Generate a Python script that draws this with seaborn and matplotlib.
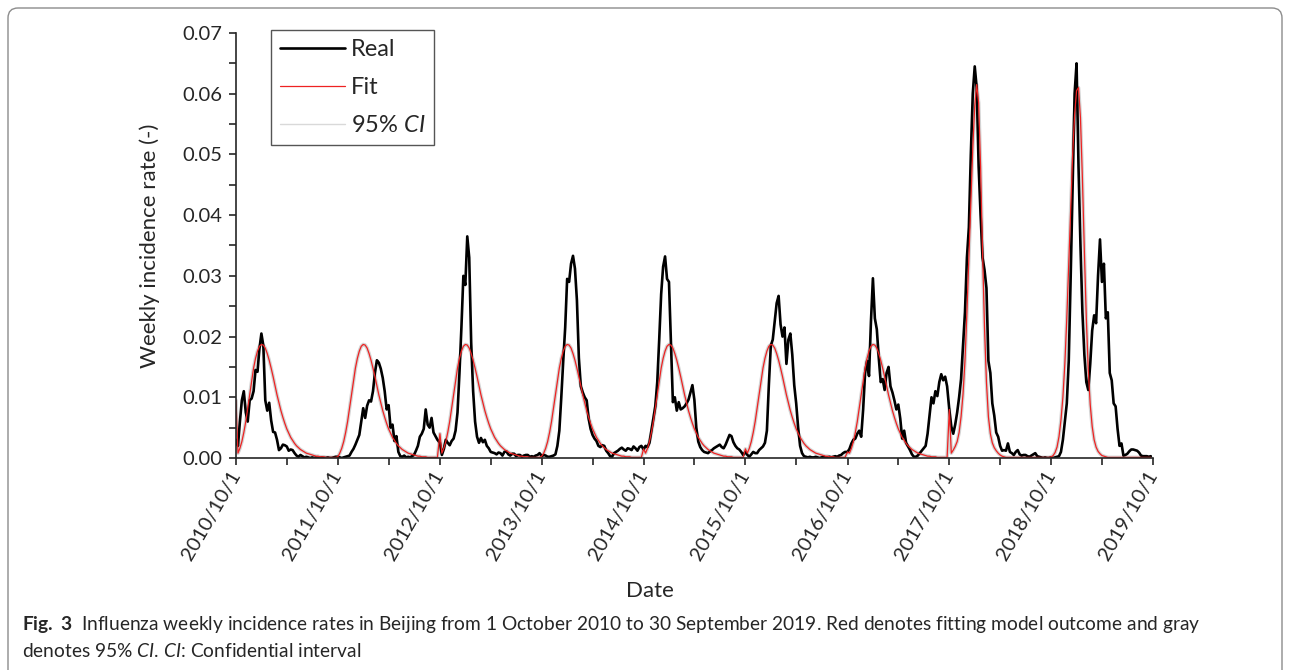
import pandas as pd
import matplotlib
matplotlib.use("Agg")
import matplotlib.pyplot as plt
import matplotlib.dates as mdates
from matplotlib.lines import Line2D
from matplotlib.patches import FancyBboxPatch
from matplotlib.transforms import IdentityTransform
from matplotlib.ticker import MultipleLocator, FormatStrFormatter
import seaborn as sns

# flu seasons, each starts on 1 October, weekly values
seasons = [2010, 2011, 2012, 2013, 2014, 2015, 2016, 2017, 2018]

real_2010 = [0.0030, 0.0020, 0.0060, 0.0095, 0.0110, 0.0075, 0.0060, 0.0095, 0.0098, 0.0110,
             0.0145, 0.0142, 0.0180, 0.0205, 0.0185, 0.0095, 0.0078, 0.0091, 0.0062, 0.0043,
             0.0042, 0.0030, 0.0013, 0.0016, 0.0022, 0.0021, 0.0019, 0.0012, 0.0014, 0.0013,
             0.0008, 0.0004, 0.0002, 0.0005, 0.0003, 0.0001, 0.0002, 0.0001, 0.0000, 0.0001,
             0.0000, 0.0001, 0.0000, 0.0000, 0.0001, 0.0000, 0.0000, 0.0001, 0.0000, 0.0000,
             0.0001, 0.0002]
real_2011 = [0.0002, 0.0001, 0.0000, 0.0001, 0.0002, 0.0003, 0.0004, 0.0010, 0.0015, 0.0022,
             0.0030, 0.0038, 0.0060, 0.0082, 0.0066, 0.0086, 0.0095, 0.0093, 0.0110, 0.0140,
             0.0161, 0.0157, 0.0147, 0.0132, 0.0110, 0.0080, 0.0087, 0.0050, 0.0055, 0.0028,
             0.0036, 0.0010, 0.0003, 0.0002, 0.0004, 0.0001, 0.0002, 0.0001, 0.0003, 0.0005,
             0.0012, 0.0020, 0.0035, 0.0040, 0.0048, 0.0080, 0.0055, 0.0050, 0.0066, 0.0042,
             0.0036, 0.0030]
real_2012 = [0.0025, 0.0005, 0.0015, 0.0030, 0.0025, 0.0021, 0.0028, 0.0032, 0.0045, 0.0075,
             0.0140, 0.0215, 0.0300, 0.0285, 0.0365, 0.0330, 0.0190, 0.0110, 0.0060, 0.0035,
             0.0025, 0.0033, 0.0026, 0.0030, 0.0020, 0.0016, 0.0010, 0.0009, 0.0008, 0.0006,
             0.0009, 0.0008, 0.0004, 0.0010, 0.0011, 0.0006, 0.0004, 0.0007, 0.0007, 0.0003,
             0.0005, 0.0005, 0.0002, 0.0004, 0.0005, 0.0005, 0.0002, 0.0003, 0.0002, 0.0004,
             0.0005, 0.0008]
real_2013 = [0.0003, 0.0005, 0.0004, 0.0002, 0.0002, 0.0003, 0.0004, 0.0006, 0.0020, 0.0045,
             0.0100, 0.0160, 0.0215, 0.0295, 0.0290, 0.0320, 0.0333, 0.0312, 0.0260, 0.0165,
             0.0118, 0.0108, 0.0100, 0.0095, 0.0065, 0.0048, 0.0038, 0.0032, 0.0028, 0.0020,
             0.0018, 0.0021, 0.0020, 0.0012, 0.0008, 0.0003, 0.0002, 0.0008, 0.0010, 0.0012,
             0.0015, 0.0017, 0.0014, 0.0012, 0.0016, 0.0015, 0.0013, 0.0019, 0.0016, 0.0012,
             0.0018, 0.0020]
real_2014 = [0.0014, 0.0020, 0.0018, 0.0025, 0.0045, 0.0065, 0.0085, 0.0125, 0.0195, 0.0270,
             0.0315, 0.0332, 0.0295, 0.0290, 0.0190, 0.0092, 0.0100, 0.0078, 0.0092, 0.0080,
             0.0082, 0.0085, 0.0090, 0.0096, 0.0108, 0.0120, 0.0096, 0.0050, 0.0027, 0.0018,
             0.0013, 0.0010, 0.0009, 0.0008, 0.0011, 0.0013, 0.0016, 0.0018, 0.0020, 0.0022,
             0.0018, 0.0016, 0.0022, 0.0030, 0.0038, 0.0036, 0.0026, 0.0020, 0.0016, 0.0014,
             0.0010, 0.0005]
real_2015 = [0.0010, 0.0005, 0.0002, 0.0006, 0.0010, 0.0008, 0.0008, 0.0013, 0.0016, 0.0019,
             0.0025, 0.0045, 0.0120, 0.0185, 0.0195, 0.0225, 0.0255, 0.0267, 0.0220, 0.0200,
             0.0215, 0.0155, 0.0195, 0.0205, 0.0170, 0.0120, 0.0090, 0.0050, 0.0020, 0.0008,
             0.0003, 0.0002, 0.0001, 0.0002, 0.0001, 0.0001, 0.0002, 0.0001, 0.0000, 0.0001,
             0.0002, 0.0001, 0.0001, 0.0002, 0.0001, 0.0002, 0.0003, 0.0002, 0.0004, 0.0005,
             0.0008, 0.0010]
real_2016 = [0.0010, 0.0015, 0.0024, 0.0030, 0.0032, 0.0040, 0.0045, 0.0035, 0.0080, 0.0140,
             0.0160, 0.0135, 0.0225, 0.0296, 0.0230, 0.0212, 0.0165, 0.0125, 0.0130, 0.0112,
             0.0140, 0.0150, 0.0118, 0.0108, 0.0095, 0.0080, 0.0088, 0.0065, 0.0032, 0.0045,
             0.0025, 0.0019, 0.0013, 0.0006, 0.0002, 0.0002, 0.0004, 0.0008, 0.0012, 0.0016,
             0.0020, 0.0040, 0.0070, 0.0100, 0.0090, 0.0110, 0.0102, 0.0125, 0.0138, 0.0128,
             0.0134, 0.0118]
real_2017 = [0.0079, 0.0052, 0.0040, 0.0055, 0.0075, 0.0100, 0.0130, 0.0185, 0.0240, 0.0330,
             0.0380, 0.0500, 0.0600, 0.0645, 0.0610, 0.0480, 0.0400, 0.0330, 0.0310, 0.0280,
             0.0160, 0.0140, 0.0090, 0.0070, 0.0042, 0.0035, 0.0020, 0.0012, 0.0013, 0.0012,
             0.0024, 0.0010, 0.0008, 0.0005, 0.0010, 0.0013, 0.0006, 0.0004, 0.0005, 0.0005,
             0.0003, 0.0002, 0.0004, 0.0006, 0.0008, 0.0003, 0.0002, 0.0001, 0.0000, 0.0001,
             0.0000, 0.0000]
real_2018 = [0.0001, 0.0000, 0.0001, 0.0002, 0.0003, 0.0010, 0.0030, 0.0060, 0.0090, 0.0160,
             0.0300, 0.0450, 0.0600, 0.0650, 0.0480, 0.0350, 0.0240, 0.0170, 0.0125, 0.0112,
             0.0155, 0.0210, 0.0235, 0.0222, 0.0300, 0.0360, 0.0290, 0.0320, 0.0230, 0.0240,
             0.0140, 0.0128, 0.0090, 0.0085, 0.0048, 0.0020, 0.0024, 0.0004, 0.0005, 0.0007,
             0.0011, 0.0014, 0.0014, 0.0013, 0.0012, 0.0009, 0.0004, 0.0003, 0.0003, 0.0003,
             0.0002, 0.0003]

# fitted curve: value on 1 Oct of each season, then weeks 1..51
fit_start = [0.0095, 0.0002, 0.0040, 0.0003, 0.0015, 0.0015, 0.0010, 0.0080, 0.0002]
fit_normal = [0.0008, 0.0016, 0.0027, 0.0042, 0.0060, 0.0082, 0.0105, 0.0127, 0.0148, 0.0164,
              0.0176, 0.0184, 0.0187, 0.0186, 0.0181, 0.0172, 0.0161, 0.0148, 0.0134, 0.0119,
              0.0104, 0.0091, 0.0078, 0.0067, 0.0057, 0.0048, 0.0041, 0.0034, 0.0029, 0.0024,
              0.0020, 0.0017, 0.0014, 0.0012, 0.0010, 0.0008, 0.0007, 0.0006, 0.0005, 0.0004,
              0.0003, 0.0003, 0.0002, 0.0002, 0.0002, 0.0001, 0.0001, 0.0001, 0.0001, 0.0001,
              0.0001]
fit_2017 = [0.0008, 0.0013, 0.0019, 0.0027, 0.0042, 0.0068, 0.0105, 0.0160, 0.0240, 0.0330,
            0.0420, 0.0510, 0.0580, 0.0615, 0.0585, 0.0480, 0.0340, 0.0215, 0.0125, 0.0068,
            0.0040, 0.0025, 0.0017, 0.0012, 0.0008, 0.0005, 0.0003, 0.0002, 0.0001, 0.0001,
            0.0001, 0.0001, 0.0001, 0.0001, 0.0001, 0.0001, 0.0001, 0.0001, 0.0001, 0.0001,
            0.0001, 0.0001, 0.0001, 0.0001, 0.0001, 0.0001, 0.0001, 0.0001, 0.0001, 0.0001,
            0.0001]
fit_2018 = [0.0004, 0.0009, 0.0018, 0.0035, 0.0062, 0.0100, 0.0155, 0.0230, 0.0320, 0.0410,
            0.0500, 0.0565, 0.0605, 0.0610, 0.0560, 0.0460, 0.0340, 0.0230, 0.0145, 0.0088,
            0.0052, 0.0030, 0.0018, 0.0011, 0.0007, 0.0004, 0.0003, 0.0002, 0.0001, 0.0001,
            0.0001, 0.0001, 0.0001, 0.0001, 0.0001, 0.0001, 0.0001, 0.0001, 0.0001, 0.0001,
            0.0001, 0.0001, 0.0001, 0.0001, 0.0001, 0.0001, 0.0001, 0.0001, 0.0001, 0.0001,
            0.0001]

real_all = [real_2010, real_2011, real_2012, real_2013, real_2014,
            real_2015, real_2016, real_2017, real_2018]
fit_shapes = {2017: fit_2017, 2018: fit_2018}

rows = []
for i, yr in enumerate(seasons):
    dates = pd.date_range(f"{yr}-10-01", periods=52, freq="7D")
    fit_vals = [fit_start[i]] + fit_shapes.get(yr, fit_normal)
    for d, r, f in zip(dates, real_all[i], fit_vals):
        rows.append((d, r, f))
df = pd.DataFrame(rows, columns=["date", "real", "fit"])

sns.set_style("ticks")
plt.rcParams['font.family'] = ['Lato', 'DejaVu Sans']
plt.rcParams['mathtext.fontset'] = 'custom'
plt.rcParams['mathtext.rm'] = 'Lato'
plt.rcParams['mathtext.it'] = 'Lato:italic'
plt.rcParams['mathtext.bf'] = 'Lato:bold'

fig = plt.figure(figsize=(12.9, 6.7), dpi=100)
ax = fig.add_axes([236 / 1290, 1 - 458 / 670, 917 / 1290, 425 / 670])

# 95% CI (drawn as a gray halo under the fit), real data, fit
sns.lineplot(data=df, x="date", y="fit", color="#d4d4d4", lw=2.6, estimator=None, ax=ax)
sns.lineplot(data=df, x="date", y="real", color="black", lw=1.9, estimator=None, ax=ax)
sns.lineplot(data=df, x="date", y="fit", color="#ee2222", lw=0.9, estimator=None, ax=ax)

ax.set_xlim(pd.Timestamp("2010-10-01"), pd.Timestamp("2019-10-01"))
ax.set_ylim(0, 0.07)
sns.despine(ax=ax)
for s in ["left", "bottom"]:
    ax.spines[s].set_linewidth(1.2)

tick_years = list(range(2010, 2020))
ax.set_xticks([mdates.date2num(pd.Timestamp(f"{y}-10-01")) for y in tick_years])
ax.set_xticklabels([f"{y}/10/1" for y in tick_years], rotation=60, ha="right",
                   va="center", rotation_mode="anchor")
ax.set_xticks([mdates.date2num(pd.Timestamp(f"{y}-04-01")) for y in range(2011, 2020)],
              minor=True)
ax.yaxis.set_major_locator(MultipleLocator(0.01))
ax.yaxis.set_minor_locator(MultipleLocator(0.005))
ax.yaxis.set_major_formatter(FormatStrFormatter("%.2f"))
ax.tick_params(which="both", direction="out", length=5, width=1.2, labelsize=14.5, pad=5)

ax.set_xlabel("Date", fontsize=16)
ax.xaxis.set_label_coords(0.451, -0.29)
ax.set_ylabel("Weekly incidence rate (-)", fontsize=16)
ax.yaxis.set_label_coords(-0.083, 0.5)

handles = [Line2D([], [], color="black", lw=1.9),
           Line2D([], [], color="#ee2222", lw=0.9),
           Line2D([], [], color="#d9d9d9", lw=1.0)]
leg = ax.legend(handles, ["Real", "Fit", "95% $\\mathit{CI}$"], loc="upper left",
                bbox_to_anchor=(0.038, 1.007), borderaxespad=0, fancybox=False,
                edgecolor="#555555", framealpha=1, fontsize=17, handlelength=2.75,
                labelspacing=0.72, handletextpad=0.25, borderpad=0.38)
leg.get_frame().set_linewidth(1.0)

# caption
fig.text(22 / 1290, 1 - 630 / 670,
         "$\\mathbf{Fig.\\ 3}$  Influenza weekly incidence rates in Beijing from 1 October 2010 "
         "to 30 September 2019. Red denotes fitting model outcome and gray",
         fontsize=13.8, va="baseline")
fig.text(22 / 1290, 1 - 657 / 670,
         "denotes 95% $\\mathit{CI}$. $\\mathit{CI}$: Confidential interval",
         fontsize=13.8, va="baseline")

frame = FancyBboxPatch((8, -30), 1274, 692, boxstyle="round,pad=0,rounding_size=10",
                       transform=IdentityTransform(), fill=False, edgecolor="#8c8c8c", lw=1.0)
fig.add_artist(frame)

fig.savefig("out.png", dpi=100)
